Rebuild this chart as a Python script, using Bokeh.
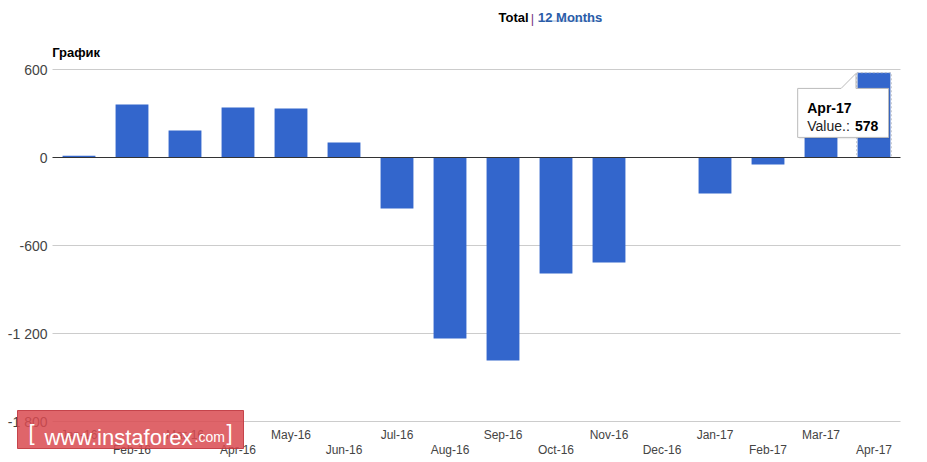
from bokeh.plotting import figure
from bokeh.models import (Range1d, FixedTicker, LinearAxis, Label, BoxAnnotation)
from bokeh.embed import file_html
from bokeh.resources import INLINE

# ---- data ----
months = ["Jan-16", "Feb-16", "Mar-16", "Apr-16", "May-16", "Jun-16", "Jul-16", "Aug-16",
          "Sep-16", "Oct-16", "Nov-16", "Dec-16", "Jan-17", "Feb-17", "Mar-17", "Apr-17"]
values = [12, 361, 184, 341, 334, 102, -348, -1234, -1384, -791, -716, 0, -245, -48, 300, 578]
y_ticks = [-1800, -1200, -600, 0, 600]
y_tick_labels = ["-1 800", "-1 200", "-600", "0", "600"]
chart_title = "График"
tooltip_index = 15

# ---- geometry (page pixels -> data units) ----
W, H = 927, 462
PLOT_L, PX_X = 52, 53.0            # left edge of category band, px per category
ZERO_PX, PX_Y = 157, 88.0 / 600    # pixel row of value 0, px per unit


def dx(px):
    return -0.5 + (px - PLOT_L) / PX_X


def dy(py):
    return (ZERO_PX - py) / PX_Y


FONT = "Liberation Sans"
BAR = "#3366cc"
TICK_COLOR = "#444444"

p = figure(width=W, height=H, output_backend="svg", toolbar_location=None,
           x_range=Range1d(dx(0), dx(W)), y_range=Range1d(dy(H), dy(0)),
           x_axis_type=None, y_axis_type=None,
           min_border_left=0, min_border_right=0, min_border_top=0, min_border_bottom=0)
p.outline_line_color = None
p.background_fill_color = "white"
p.border_fill_color = "white"

n = len(months)
idx = list(range(n))
x_lo, x_hi = -0.5, n - 0.5

# grid lines (within the category band)
grid_y = [t for t in y_ticks if t != 0]
p.segment(x0=[x_lo] * len(grid_y), x1=[x_hi] * len(grid_y), y0=grid_y, y1=grid_y,
          line_color="#cccccc", line_width=1)

# y axis drawn at the left of the band
yax = LinearAxis(ticker=FixedTicker(ticks=y_ticks), fixed_location=x_lo,
                 major_label_overrides={t: l for t, l in zip(y_ticks, y_tick_labels)})
yax.axis_line_color = None
yax.major_tick_line_color = None
yax.minor_tick_line_color = None
yax.major_tick_out = 0
yax.major_tick_in = 0
yax.major_label_text_font = FONT
yax.major_label_text_font_size = "14px"
yax.major_label_text_color = TICK_COLOR
yax.major_label_standoff = 5
p.add_layout(yax, "left")

# x axes: two staggered rows under the bottom grid line
for ticks, standoff in ((idx[0::2], 6), (idx[1::2], 21)):
    ax = LinearAxis(ticker=FixedTicker(ticks=ticks), fixed_location=y_ticks[0],
                    major_label_overrides={i: months[i] for i in ticks})
    ax.axis_line_color = None
    ax.major_tick_line_color = None
    ax.minor_tick_line_color = None
    ax.major_tick_out = 0
    ax.major_tick_in = 0
    ax.major_label_text_font = FONT
    ax.major_label_text_font_size = "12px"
    ax.major_label_text_color = TICK_COLOR
    ax.major_label_standoff = standoff
    p.add_layout(ax, "below")

# bars
BW = 0.62
p.vbar(x=idx, top=values, bottom=0, width=BW, fill_color=BAR, line_color=None)
p.vbar(x=[tooltip_index], top=[values[tooltip_index]], bottom=0, width=BW + 0.03,
       fill_color=None, line_color="#b8bcc4", line_dash="2 2", line_width=1)

# zero line
p.segment(x0=[x_lo], x1=[x_hi], y0=[0], y1=[0], line_color="#333333", line_width=1)

# tooltip
tx = tooltip_index - BW / 2 - 0.03
ty = values[tooltip_index] - 5
bl, br = tx - 1.1, tx + 0.615
bt, bb = ty - 102, ty - 436
pxs = [bl, bl, tx - 0.28, tx, tx, br, br]
pys = [bb, bt, bt, ty, bt, bt, bb]
p.patch([x + 0.03 for x in pxs], [y - 12 for y in pys], fill_color="#000000",
        fill_alpha=0.07, line_color=None)
p.patch(pxs, pys, fill_color="white", line_color="#bbbbbb", line_width=1)
p.add_layout(Label(x=tx - 0.92, y=ty - 236.8, text=months[tooltip_index],
                   text_font=FONT, text_font_size="14px", text_font_style="bold",
                   text_color="#000000", text_baseline="alphabetic"))
p.add_layout(Label(x=tx - 0.92, y=ty - 359.6, text="Value.: ",
                   text_font=FONT, text_font_size="14px",
                   text_color="#222222", text_baseline="alphabetic"))
p.add_layout(Label(x=tx - 0.02, y=ty - 359.6, text=str(values[tooltip_index]),
                   text_font=FONT, text_font_size="14px", text_font_style="bold",
                   text_color="#000000", text_baseline="alphabetic"))

# title
p.add_layout(Label(x=dx(51.7), y=dy(51.7), text=chart_title, text_font=FONT,
                   text_font_size="13px", text_font_style="bold", text_color="#000000",
                   text_baseline="alphabetic"))

# top switcher
p.add_layout(Label(x=dx(498), y=dy(17.3), text="Total", text_font=FONT,
                   text_font_size="13px", text_font_style="bold", text_color="#000000",
                   text_baseline="alphabetic"))
p.add_layout(Label(x=dx(532), y=dy(17.8), text="|", text_font=FONT, text_align="center",
                   text_font_size="13px", text_color="#7a3b86", text_baseline="alphabetic"))
p.add_layout(Label(x=dx(537.5), y=dy(17.3), text="12 Months", text_font=FONT,
                   text_font_size="13px", text_font_style="bold", text_color="#2a5ca8",
                   text_baseline="alphabetic"))
p.segment(x0=[dx(538)], x1=[dx(601)], y0=[dy(20.5)], y1=[dy(20.5)],
          line_color="#2a5ca8", line_dash="1 1", line_width=1)

# watermark
p.add_layout(BoxAnnotation(left=dx(17), right=dx(243), top=dy(410), bottom=dy(448),
                           fill_color="#d94a50", fill_alpha=0.85,
                           line_color="#c0393f", line_alpha=0.9, line_width=1))
p.add_layout(Label(x=dx(31), y=dy(432), text="[", text_font=FONT, text_align="center",
                   text_font_size="22px", text_color="white", text_baseline="middle"))
p.add_layout(Label(x=dx(44), y=dy(436.5), text="www.instaforex", text_font=FONT,
                   text_font_size="22px", text_color="white", text_baseline="alphabetic"))
p.add_layout(Label(x=dx(194), y=dy(436.5), text=".com", text_font=FONT,
                   text_font_size="14px", text_color="white", text_baseline="alphabetic"))
p.add_layout(Label(x=dx(229), y=dy(432), text="]", text_font=FONT, text_align="center",
                   text_font_size="22px", text_color="white", text_baseline="middle"))

open("out.html", "w").write(file_html(p, INLINE))
